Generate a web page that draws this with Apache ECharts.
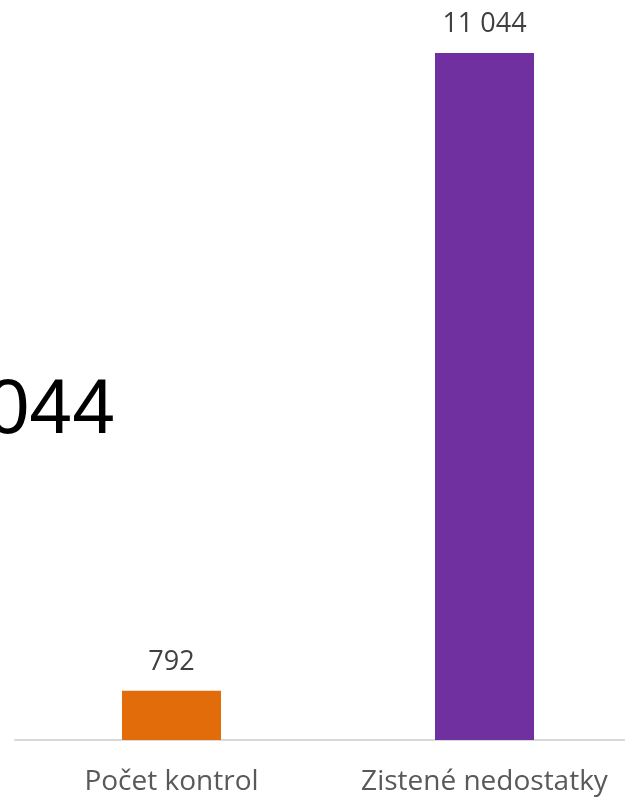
<!DOCTYPE html>
<html>
<head>
<meta charset="utf-8">
<script src="https://cdn.jsdelivr.net/npm/echarts@6/dist/echarts.min.js"></script>
<style>
  html, body { margin: 0; padding: 0; background: #fff; }
  #chart { width: 625px; height: 797px; }
</style>
</head>
<body>
<div id="chart"></div>
<script>
var categories = ['Počet kontrol', 'Zistené nedostatky'];
var values = [792, 11044];
var barColors = ['#E36C0A', '#7030A0'];
var bigLabel = '11 044';

function fmt(v) {
    return String(v).replace(/\B(?=(\d{3})+(?!\d))/g, ' ');
}

var chart = echarts.init(document.getElementById('chart'));
var option = {
    backgroundColor: '#ffffff',
    animation: false,
    grid: { left: 15, top: 53, width: 626, bottom: 57, outerBoundsMode: 'none', containLabel: false },
    graphic: [{
        type: 'text',
        right: 510,
        top: 373,
        style: {
            text: bigLabel,
            fontFamily: 'Liberation Sans',
            fontSize: 77,
            fill: '#000000'
        }
    }],
    xAxis: {
        type: 'category',
        data: categories,
        axisLine: { lineStyle: { color: '#d9d9d9', width: 2 } },
        axisTick: { show: false },
        axisLabel: {
            interval: 0,
            hideOverlap: false,
            color: '#595959',
            fontFamily: 'Open Sans',
            fontSize: 28,
            margin: 28
        }
    },
    yAxis: {
        type: 'value',
        min: 0,
        max: Math.max.apply(null, values),
        show: false,
        splitLine: { show: false }
    },
    series: [{
        type: 'bar',
        barWidth: 99,
        data: values.map(function (v, i) {
            return { value: v, itemStyle: { color: barColors[i] } };
        }),
        label: {
            show: true,
            position: 'top',
            distance: 15,
            color: '#404040',
            fontFamily: 'Open Sans',
            fontSize: 27,
            formatter: function (p) { return fmt(p.value); }
        }
    }]
};
chart.setOption(option);
</script>
</body>
</html>
